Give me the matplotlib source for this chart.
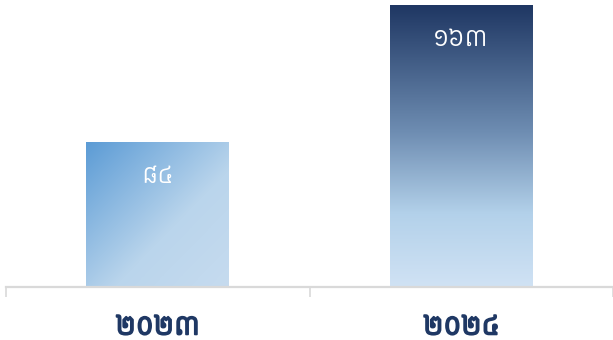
import matplotlib
matplotlib.use("Agg")
import matplotlib.pyplot as plt
import matplotlib.patheffects as pe
import numpy as np
from matplotlib.colors import LinearSegmentedColormap

years = ["២០២៣", "២០២៤"]
values = [84, 163]
value_labels = ["៨៤", "១៦៣"]

FONT = ["Kantumruy Pro", "Noto Sans Khmer", "DejaVu Sans"]
plt.rcParams["font.family"] = FONT

W, H = 613, 340
fig = plt.figure(figsize=(W / 100, H / 100), dpi=100)
ax = fig.add_axes([6 / W, (H - 287) / H, (W - 6) / W, 287 / H])

x = np.arange(len(years))
bar_w = 0.47
bars = ax.bar(x, values, width=bar_w, color="none", edgecolor="none")

# gradients
cm1 = LinearSegmentedColormap.from_list(
    "g1", [(0.0, "#5b9bd5"), (0.6, "#bad5ec"), (1.0, "#c6dbef")])
cm2 = LinearSegmentedColormap.from_list(
    "g2", [(0.0, "#1f3763"), (0.45, "#6e8db2"), (0.74, "#b3d1ea"), (1.0, "#d0e2f4")])

n = 256
for i, b in enumerate(bars):
    x0, w, h = b.get_x(), b.get_width(), b.get_height()
    if i == 0:
        u = np.linspace(0, 1, n)[None, :]
        v = np.linspace(0, 1, n)[:, None]  # 0 at top
        t = (u + v) / 2.0
        img = cm1(t)
    else:
        v = np.linspace(0, 1, n)[:, None] * np.ones((1, 2))
        img = cm2(v)
    im = ax.imshow(img, extent=[x0, x0 + w, 0, h], origin="upper",
                   aspect="auto", interpolation="bilinear", zorder=2)
    im.set_clip_path(b)

for i, b in enumerate(bars):
    ax.annotate(value_labels[i], (b.get_x() + b.get_width() / 2, b.get_height()),
                xytext=(0, -24.5), textcoords="offset points",
                ha="center", va="center", color="white", fontsize=19, zorder=3)

ax.set_xlim(-0.5, 1.5)
ax.set_ylim(0, 287 / (282 / 163))

for s in ["left", "right", "top"]:
    ax.spines[s].set_visible(False)
ax.spines["bottom"].set_color("#d9d9d9")
ax.spines["bottom"].set_linewidth(1.6)
ax.set_yticks([])
ax.set_xticks([-0.5, 0.5, 1.5])
ax.set_xticklabels([])
ax.tick_params(axis="x", which="major", length=7, width=1.2, color="#d9d9d9", direction="out")
ax.set_xticks(x, minor=True)
labs = ax.set_xticklabels(years, minor=True, fontsize=21, fontweight="bold", color="#1f3864")
for t in labs:
    t.set_path_effects([pe.withStroke(linewidth=1.3, foreground="#1f3864")])
ax.tick_params(axis="x", which="minor", length=0, pad=19)

fig.savefig("out.png", dpi=100)
